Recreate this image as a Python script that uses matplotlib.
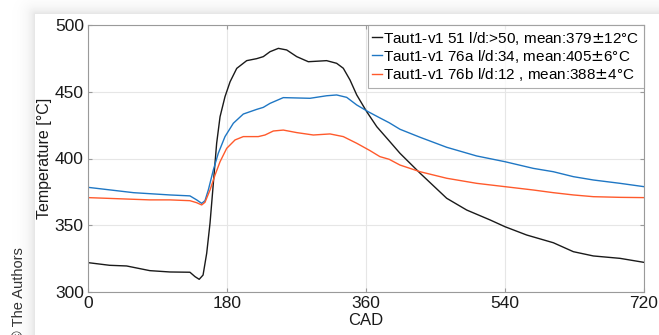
import matplotlib
matplotlib.use("Agg")
import matplotlib.pyplot as plt
import numpy as np

plt.rcParams['font.family'] = ['Liberation Sans', 'DejaVu Sans']

# crank angle (deg) / temperature (degC)
cad_51 = [0, 28, 50, 80, 106, 132, 138.6, 144, 149, 153.7, 158, 162.3, 166.6, 171, 177.4,
          184, 192.6, 205.5, 218.5, 227, 235.7, 246.5, 257.3, 270.3, 285.3, 300.4, 309, 322,
          330.6, 339.3, 348, 361, 374, 389, 404, 430, 464.5, 490.4, 520.6, 540, 568, 602.6,
          628.5, 654.4, 689, 720]
temp_51 = [322, 320, 319.5, 316, 315, 314.8, 311.5, 309.5, 312.7, 329, 351.5, 381.4, 411.4,
           431.3, 446.3, 457.5, 467.5, 473.3, 474.8, 476.3, 480, 482.5, 481.3, 476.3, 472.5,
           473, 473.3, 471.3, 467.6, 458.8, 447.6, 435, 423.8, 413.9, 403.9, 389, 370.2,
           361.4, 354, 348.9, 342.7, 336.9, 330.2, 327, 325.2, 322.2]

cad_76a = [0, 59, 106, 132, 140.7, 147.2, 151.5, 155.8, 162.3, 168.7, 177.4, 188.2, 201.1,
           218.5, 227, 235.7, 252.9, 287.5, 309, 322, 335, 348, 363, 378, 390, 404, 430,
           464.5, 503.3, 540, 576.7, 602.6, 628.5, 654.4, 689, 720]
temp_76a = [378.4, 374.4, 372.7, 372, 369, 366.4, 368.4, 376.4, 391.4, 403.9, 416.4, 426.4,
            433.3, 436.8, 438.3, 441.3, 445.6, 445.1, 447, 447.6, 445.8, 440.1, 435, 430.4,
            426.8, 421.9, 415.9, 408.4, 401.9, 397.6, 392.6, 390.1, 386.4, 383.9, 381.4, 378.9]

cad_76b = [0, 80, 106, 132, 140.7, 147.2, 151.5, 158, 164.5, 171, 179.6, 190.4, 201.1, 220.5,
           229.2, 240, 252.9, 270.3, 291.8, 313.4, 330.6, 348, 365.2, 378, 390, 404, 430,
           464.5, 503.3, 540, 576.7, 602.6, 628.5, 654.4, 689, 720]
temp_76b = [370.7, 369, 369, 368.4, 366.9, 365.2, 367.2, 376.4, 387.6, 397.6, 407.6, 413.9,
            416.4, 416.4, 417.6, 420.6, 421.3, 419.4, 417.6, 418.4, 416.4, 411.4, 405.9, 401.4,
            399.4, 395.1, 390.1, 385.2, 381.4, 378.9, 376.4, 374.4, 372.7, 371.4, 370.9, 370.7]

labels = ["Taut1-v1 51 l/d:>50, mean:379$\\pm$12°C",
          "Taut1-v1 76a l/d:34, mean:405$\\pm$6°C",
          "Taut1-v1 76b l/d:12 , mean:388$\\pm$4°C"]
colors = ["#1a1a1a", "#1f77c4", "#ff5a2c"]

fig = plt.figure(figsize=(6.59, 3.35), dpi=100)

# page background with soft shadow around the card
bg = fig.add_axes([0, 0, 1, 1])
W, H = 659, 335
xx, yy = np.meshgrid(np.arange(W), np.arange(H))
dx = np.clip(35 - xx, 0, None)
dy = np.clip(14 - yy, 0, None)
d = np.sqrt(dx**2 + dy**2)
shade = np.where(d > 0, 1 - 0.11 * np.exp(-d / 7.0), 1.0)
bg.imshow(shade, cmap='gray', vmin=0, vmax=1, aspect='auto', extent=[0, W, H, 0])
bg.set_axis_off()

ax = fig.add_axes([88/659, 43/335, 556/659, 267/335])
ax.plot(cad_51, temp_51, color=colors[0], lw=1.0, label=labels[0])
ax.plot(cad_76a, temp_76a, color=colors[1], lw=1.0, label=labels[1])
ax.plot(cad_76b, temp_76b, color=colors[2], lw=1.0, label=labels[2])

ax.set_xlim(0, 720)
ax.set_ylim(300, 500)
ax.set_xticks([0, 180, 360, 540, 720])
ax.set_yticks([300, 350, 400, 450, 500])
ax.grid(True, color='#e6e6e6', lw=0.8)
ax.set_axisbelow(True)
for s in ax.spines.values():
    s.set_color('#9a9a9a')
    s.set_linewidth(0.8)
ax.tick_params(direction='in', length=3, color='#9a9a9a', labelsize=12.5,
               labelcolor='#1a1a1a', top=True, right=True, pad=3)
ax.set_xlabel("CAD", fontsize=12, color='#1a1a1a', labelpad=1)
ax.set_ylabel("Temperature [°C]", fontsize=11.5, color='#1a1a1a', labelpad=2)

leg = ax.legend(loc='upper right', fontsize=11, frameon=True, fancybox=False,
                edgecolor='#9a9a9a', borderaxespad=0, handlelength=0.6,
                handletextpad=0.1, labelspacing=0.08, borderpad=0.3)
leg.get_frame().set_linewidth(0.8)

fig.text(19/659, -6/335, "© The Authors", rotation=90, ha='center', va='bottom',
         fontsize=10.5, color='#333333')

fig.savefig("out.png", dpi=100)
